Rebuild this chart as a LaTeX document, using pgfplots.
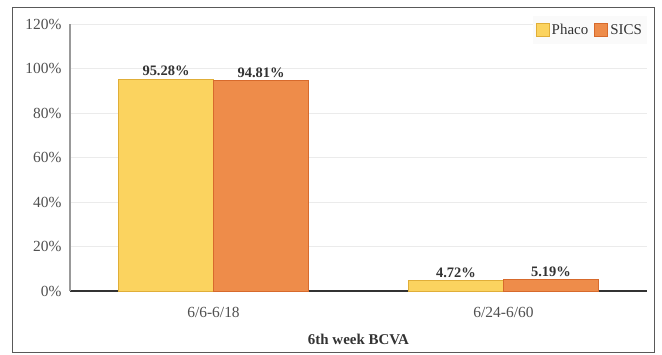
\documentclass[border=0pt]{standalone}
\usepackage{pgfplots}
\pgfplotsset{compat=1.18}
\usepackage{fontspec}
\setmainfont{Liberation Serif}

\definecolor{phacofill}{HTML}{FBD35F}
\definecolor{phacoedge}{HTML}{E0AE38}
\definecolor{sicsfill}{HTML}{EE8C4A}
\definecolor{sicsedge}{HTML}{D76A2C}
\definecolor{ticktext}{HTML}{505050}
\definecolor{valtext}{HTML}{333333}

\begin{document}
\begin{tikzpicture}[x=1bp,y=1bp]
\useasboundingbox (0,0) rectangle (662,354);
\draw[fill=white, draw=black!65, line width=1bp] (12,1.5) rectangle (654,346);
\begin{axis}[
  at={(70bp,63bp)}, anchor=south west,
  scale only axis, width=577bp, height=267bp,
  xmin=-0.495, xmax=1.495,
  ymin=0, ymax=120,
  ybar=0pt, bar width=95bp,
  xtick=data, xticklabels={6/6-6/18, 6/24-6/60},
  ytick={0,20,...,120},
  yticklabel={\pgfmathprintnumber{\tick}\%},
  /pgf/number format/assume math mode=true,
  major tick length=0pt,
  axis lines*=left,
  x axis line style={black!80, line width=2bp},
  y axis line style={black!40, line width=1.5bp},
  ymajorgrids, grid style={black!8, line width=0.8bp},
  tick label style={font=\fontsize{15.5}{17}\selectfont, text=ticktext},
  yticklabel style={xshift=-5bp},
  xticklabel style={yshift=-13bp},
  xlabel={\textbf{6th week BCVA}},
  xlabel style={font=\fontsize{15}{17}\selectfont, text=valtext, yshift=-9bp},
  nodes near coords={\pgfmathprintnumber[fixed,precision=2,fixed zerofill]{\pgfplotspointmeta}\%},
  nodes near coords style={font=\bfseries\fontsize{14.5}{16}\selectfont, text=valtext, anchor=south, yshift=-1bp},
  legend columns=2,
  legend style={at={(rel axis cs:1,1.03)}, anchor=north east, draw=none, fill=black!2,
    font=\fontsize{15}{17}\selectfont, text=valtext,
    /tikz/every even column/.append style={column sep=4bp},
    inner xsep=3bp, inner ysep=6bp},
  legend image code/.code={\draw[#1, line width=1bp] (0bp,-6.5bp) rectangle (13bp,6.5bp);},
  clip=false,
]
\addplot[fill=phacofill, draw=phacoedge, line width=1bp] coordinates {(0,95.28) (1,4.72)};
\addplot[fill=sicsfill, draw=sicsedge, line width=1bp] coordinates {(0,94.81) (1,5.19)};
\legend{Phaco, SICS}
\end{axis}
\end{tikzpicture}
\end{document}
